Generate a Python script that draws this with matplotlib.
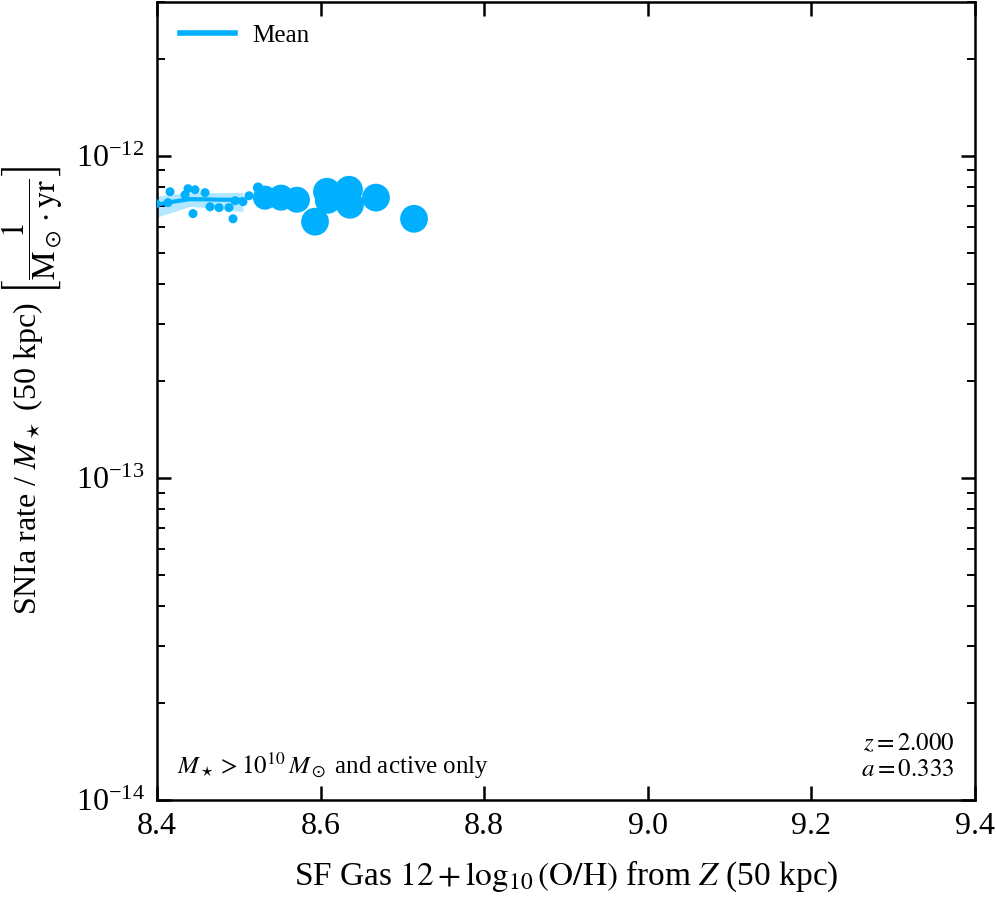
import numpy as np
import matplotlib
matplotlib.use("Agg")
import matplotlib.pyplot as plt
from matplotlib.ticker import NullFormatter, FixedLocator, LogFormatterSciNotation

plt.rcParams['font.family'] = ['Liberation Serif', 'DejaVu Serif']
plt.rcParams['mathtext.fontset'] = 'stix'

# scatter data
pt_x = [8.3988, 8.4134, 8.4159, 8.4342, 8.4379, 8.4465, 8.4587, 8.4440, 8.4648,
        8.4758, 8.4880, 8.4929, 8.4954, 8.5051, 8.5125, 8.5235,
        8.5320, 8.5516, 8.5711, 8.5932, 8.6078, 8.6090, 8.6347, 8.6359, 8.6677, 8.7142]
pt_y = [7.10e-13, 7.15e-13, 7.73e-13, 7.56e-13, 7.90e-13, 7.84e-13, 7.68e-13, 6.61e-13, 6.94e-13,
        6.90e-13, 6.90e-13, 6.37e-13, 7.25e-13, 7.20e-13, 7.51e-13, 7.96e-13,
        7.41e-13, 7.41e-13, 7.30e-13, 6.24e-13, 7.73e-13, 7.25e-13, 7.84e-13, 7.04e-13, 7.41e-13, 6.37e-13]
pt_s = [42, 42, 42, 42, 42, 42, 42, 42, 42,
        42, 42, 42, 42, 42, 42, 55,
        300, 350, 350, 400, 400, 350, 400, 400, 400, 400]

# running mean and band
mean_x = [8.40, 8.42, 8.44, 8.46, 8.48, 8.505]
mean_y = [7.05e-13, 7.20e-13, 7.33e-13, 7.32e-13, 7.30e-13, 7.30e-13]
band_lo = [6.45e-13, 6.70e-13, 6.96e-13, 6.90e-13, 6.80e-13, 6.71e-13]
band_hi = [7.50e-13, 7.60e-13, 7.67e-13, 7.68e-13, 7.69e-13, 7.69e-13]

xticks = [8.4, 8.6, 8.8, 9.0, 9.2, 9.4]
xticklabels = ['8.4', '8.6', '8.8', '9.0', '9.2', '9.4']
yticks = [1e-14, 1e-13, 1e-12]
yminor = [m * d for d in [1e-14, 1e-13, 1e-12] for m in range(2, 10) if m * d <= 3e-12]

color = '#00B0FF'

fig = plt.figure(figsize=(9.96, 9.0), dpi=100)
ax = fig.add_axes([157/996, 1-800/900, (975-157)/996, (800-2)/900])

ax.fill_between(mean_x, band_lo, band_hi, color=color, alpha=0.3, lw=0)
ax.plot(mean_x, mean_y, color=color, lw=3, label='Mean')
ax.scatter(pt_x, pt_y, s=pt_s, color=color, lw=0, zorder=3)

ax.set_yscale('log')
ax.set_xlim(8.4, 9.4)
ax.set_ylim(1e-14, 3e-12)
ax.xaxis.set_major_locator(FixedLocator(xticks))
ax.set_xticklabels(xticklabels)
ax.yaxis.set_major_locator(FixedLocator(yticks))
ax.yaxis.set_major_formatter(LogFormatterSciNotation())
ax.yaxis.set_minor_locator(FixedLocator(yminor))
ax.yaxis.set_minor_formatter(NullFormatter())

for sp in ax.spines.values():
    sp.set_linewidth(1.8)
ax.tick_params(which='both', direction='in', top=True, right=True, labelsize=23)
ax.tick_params(which='major', length=10, width=1.8, pad=9)
ax.tick_params(which='minor', length=6, width=1.4)

ax.set_xlabel(r'SF Gas $12 + \log_{10}(\mathrm{O/H})$ from $Z$ (50 kpc)', fontsize=24, labelpad=12)
fig.text(32/996, 1-390/900,
         r'SNIa rate / $M_\star$ (50 kpc) $\left[\dfrac{1}{\mathrm{M_\odot \cdot yr}}\right]$',
         fontsize=23, rotation=90, ha='center', va='center')

leg = ax.legend(loc='upper left', frameon=False, fontsize=18, handlelength=2.2,
                borderaxespad=0.5, handletextpad=0.7)
for l in leg.get_lines():
    l.set_linewidth(4)

ax.text(0.025, 0.024, r'$M_\star > 10^{10}\,M_\odot$ and active only', transform=ax.transAxes,
        fontsize=18, ha='left', va='bottom')
ax.text(0.975, 0.024, '$z = 2.000$\n$a = 0.333$', transform=ax.transAxes,
        fontsize=18, ha='right', va='bottom', multialignment='right')

fig.savefig('out.png', dpi=100)
